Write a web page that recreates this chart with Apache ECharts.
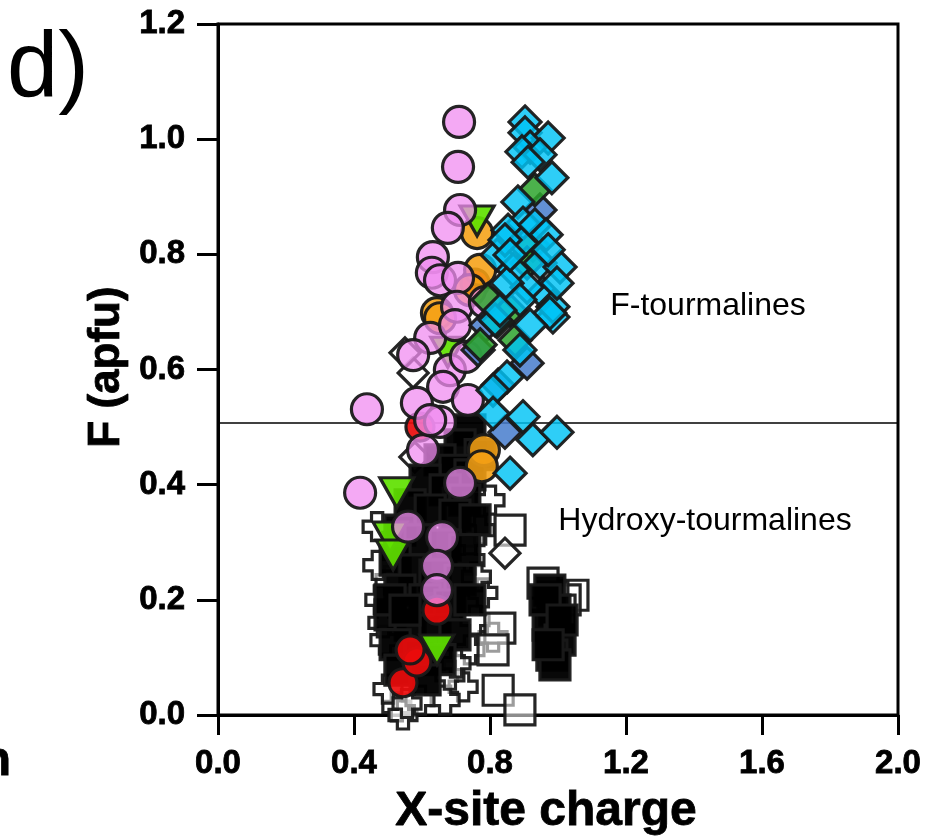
<!DOCTYPE html>
<html>
<head>
<meta charset="utf-8">
<script src="https://cdn.jsdelivr.net/npm/echarts@6/dist/echarts.min.js"></script>
<style>
html,body{margin:0;padding:0;background:#fff;}
#chart{width:929px;height:839px;}
</style>
</head>
<body>
<div id="chart"></div>
<script>
// Axis ticks
const xTickLabels = ['0.0', '0.4', '0.8', '1.2', '1.6', '2.0'];
const yTickLabels = ['0.0', '0.2', '0.4', '0.6', '0.8', '1.0', '1.2'];

// Boundary between hydroxy- and F-tourmalines
const fBoundary = 0.507;

// [X-site charge, F apfu]
const pinkCircles = [
  [0.709,1.030],[0.706,0.952],[0.712,0.877],[0.676,0.846],[0.632,0.795],[0.629,0.768],
  [0.653,0.755],[0.706,0.759],[0.703,0.709],[0.785,0.717],[0.624,0.655],[0.574,0.625],
  [0.682,0.599],[0.662,0.570],[0.735,0.547],[0.585,0.542],[0.653,0.509],[0.438,0.531],
  [0.418,0.386],[0.603,0.460],[0.712,0.403],[0.559,0.327],[0.659,0.309],[0.644,0.259],
  [0.644,0.217],[0.697,0.677],[0.729,0.622],[0.624,0.512]
];
const orangeCircles = [
  [0.762,0.837],[0.771,0.773],[0.644,0.698],[0.653,0.689],[0.782,0.460],[0.776,0.432],[0.741,0.738]
];
const limeTriangles = [
  [0.762,0.858],[0.526,0.386],[0.644,0.113],[0.506,0.309],[0.515,0.278],[0.676,0.630]
];
const redCircles = [
  [0.594,0.500],[0.544,0.056],[0.585,0.092],[0.644,0.182],[0.565,0.113],[0.756,0.750]
];
const cyanDiamonds = [
  [0.903,1.030],[0.903,1.011],[0.971,1.002],[0.918,0.986],[0.894,0.978],[0.947,0.973],
  [0.912,0.960],[0.982,0.933],[0.882,0.891],[0.897,0.854],[0.853,0.842],[0.894,0.820],
  [0.821,0.799],[0.947,0.785],[1.006,0.778],[0.868,0.773],[0.956,0.733],[0.909,0.743],
  [0.985,0.691],[0.985,0.709],[0.850,0.750],[0.888,0.721],[0.976,0.698],[0.997,0.750],
  [0.888,0.634],[0.850,0.587],[0.809,0.564],[0.897,0.518],[0.926,0.478],[0.997,0.491],
  [0.859,0.420],[0.815,0.686],[0.932,0.851],[0.965,0.834],[0.971,0.808],[0.829,0.703],
  [0.918,0.677],[0.809,0.524],[0.844,0.825],[0.859,0.799]
];
const greenDiamonds = [
  [0.932,0.912],[0.859,0.703],[0.821,0.683],[0.926,0.816],[0.909,0.785],[0.874,0.651],
  [0.771,0.643],[0.794,0.721]
];
const blueDiamonds = [
  [0.909,0.611],[0.844,0.491],[0.788,0.677],[0.765,0.634],[0.824,0.573],[0.947,0.877]
];
const openSquares = [
  [0.859,0.321],[0.956,0.229],[1.044,0.208],[1.021,0.200],[0.829,0.151],[0.809,0.113],
  [0.824,0.043],[0.888,0.009],[0.985,0.205],[1.006,0.182]
];
const openCrosses = [
  [0.800,0.373],[0.468,0.327],[0.779,0.212],[0.809,0.135],[0.721,0.049],[0.526,0.014],
  [0.544,0.000],[0.668,0.026],[0.741,0.113],[0.756,0.165],[0.491,0.130],[0.476,0.200],
  [0.741,0.269],[0.771,0.321],[0.506,0.234],[0.682,0.069],[0.594,0.026],[0.741,0.304],
  [0.485,0.160],[0.500,0.045],[0.556,0.020],[0.700,0.090],[0.760,0.240],[0.470,0.260]
];
const openDiamonds = [
  [0.844,0.281],[0.574,0.594],[0.579,0.448],[0.550,0.629]
];
const darkSquares = [
  [0.741,0.495],[0.712,0.469],[0.771,0.452],[0.653,0.443],[0.697,0.425],[0.741,0.417],
  [0.609,0.408],[0.668,0.391],[0.726,0.373],[0.565,0.365],[0.624,0.356],[0.697,0.347],
  [0.756,0.339],[0.535,0.321],[0.594,0.304],[0.668,0.295],[0.726,0.287],[0.521,0.269],
  [0.579,0.252],[0.638,0.243],[0.712,0.234],[0.535,0.217],[0.609,0.200],[0.682,0.191],
  [0.741,0.200],[0.506,0.174],[0.565,0.156],[0.638,0.148],[0.697,0.139],[0.521,0.122],
  [0.594,0.104],[0.653,0.096],[0.535,0.078],[0.609,0.061],[0.506,0.200],[0.550,0.182],
  [0.976,0.217],[0.991,0.182],[0.971,0.156],[1.006,0.130],[0.982,0.104],[0.962,0.200],
  [1.012,0.165],[0.991,0.087],[0.971,0.122]
];

const EDGE = 'rgba(25,25,25,0.95)';
const PLUS = 'path://M3,0H7V3H10V7H7V10H3V7H0V3H3Z';

function scatter(name, data, symbol, size, fill, extra) {
  return Object.assign({
    name: name,
    type: 'scatter',
    data: data,
    symbol: symbol,
    symbolSize: size,
    symbolKeepAspect: true,
    itemStyle: { color: fill, borderColor: EDGE, borderWidth: 3.2, opacity: 1 },
    emphasis: { disabled: true },
    silent: true
  }, extra || {});
}

const chart = echarts.init(document.getElementById('chart'), null, { renderer: 'canvas' });

// Heavy bold tick labels
const axisFont = {
  fontFamily: 'Liberation Sans, Arial, Helvetica, sans-serif', fontWeight: 'bold', fontSize: 33, color: '#000',
  textBorderColor: '#000', textBorderWidth: 0.8
};

chart.setOption({
  animation: false,
  backgroundColor: '#fff',
  grid: {
    left: 218, right: 31, top: 24, bottom: 124,
    show: true, borderColor: '#000', borderWidth: 3, backgroundColor: 'transparent'
  },
  xAxis: {
    type: 'value', min: 0, max: 2, interval: 0.4,
    axisLine: { show: true, onZero: false, lineStyle: { color: '#000', width: 3 } },
    axisTick: { show: true, inside: false, length: 20, lineStyle: { color: '#000', width: 3 } },
    splitLine: { show: false },
    axisLabel: Object.assign({ margin: 32, formatter: (v) => xTickLabels[Math.round(v / 0.4)] }, axisFont)
  },
  yAxis: {
    type: 'value', min: 0, max: 1.2, interval: 0.2,
    axisLine: { show: true, onZero: false, lineStyle: { color: '#000', width: 3 } },
    axisTick: { show: true, inside: false, length: 21, lineStyle: { color: '#000', width: 3 } },
    splitLine: { show: false },
    axisLabel: Object.assign({ margin: 33, formatter: (v) => yTickLabels[Math.round(v / 0.2)] }, axisFont)
  },
  series: [
    {
      name: 'boundary', type: 'line', silent: true, symbol: 'none',
      data: [[0, fBoundary], [2, fBoundary]],
      lineStyle: { color: '#000', width: 1.6 }, z: 1
    },
    scatter('open crosses', openCrosses, PLUS, 28, 'rgba(255,255,255,0.55)'),
    scatter('open squares', openSquares, 'rect', 30, 'rgba(255,255,255,0.55)'),
    scatter('open diamonds', openDiamonds, 'diamond', 30, 'rgba(255,255,255,0.6)'),
    scatter('dark', darkSquares, 'rect', 30, 'rgba(0,0,0,0.97)'),
    scatter('red', redCircles, 'circle', 28, 'rgba(235,12,12,0.92)'),
    scatter('orange', orangeCircles, 'circle', 31, 'rgba(245,160,20,0.88)'),
    scatter('lime', limeTriangles, 'triangle', [34, 30], 'rgba(95,225,0,0.92)', { symbolRotate: 180 }),
    scatter('pink', pinkCircles, 'circle', 31, 'rgba(240,140,240,0.75)'),
    scatter('steel blue', blueDiamonds, 'diamond', 32, 'rgba(70,125,205,0.85)'),
    scatter('green', greenDiamonds, 'diamond', 32, 'rgba(45,165,45,0.85)'),
    scatter('cyan', cyanDiamonds, 'diamond', 32, 'rgba(0,195,245,0.82)')
  ],
  graphic: [
    { type: 'text', left: 7, top: 25, silent: true,
      style: { text: 'd)', font: '92px "Liberation Sans", Arial, sans-serif', fill: '#000' } },
    { type: 'text', x: 546, y: 812, silent: true,
      style: { text: 'X-site charge', font: 'bold 48px "Liberation Sans", Arial, sans-serif', fill: '#000', align: 'center', verticalAlign: 'middle', stroke: '#000', lineWidth: 0.8 } },
    { type: 'text', x: 107, y: 367, rotation: Math.PI / 2, silent: true,
      style: { text: 'F (apfu)', font: 'bold 44px "Liberation Sans", Arial, sans-serif', fill: '#000', align: 'center', verticalAlign: 'middle', stroke: '#000', lineWidth: 0.8 } },
    { type: 'text', x: 708, y: 306, silent: true,
      style: { text: 'F-tourmalines', font: '32px "Liberation Sans", Arial, sans-serif', fill: '#000', align: 'center', verticalAlign: 'middle' } },
    { type: 'text', x: 705, y: 521, silent: true,
      style: { text: 'Hydroxy-tourmalines', font: '32px "Liberation Sans", Arial, sans-serif', fill: '#000', align: 'center', verticalAlign: 'middle' } },
    { type: 'text', x: 11, y: 762, silent: true,
      style: { text: 'n', font: 'bold 48px "Liberation Sans", Arial, sans-serif', fill: '#000', align: 'right', verticalAlign: 'middle', stroke: '#000', lineWidth: 0.8 } }
  ]
});
</script>
</body>
</html>
